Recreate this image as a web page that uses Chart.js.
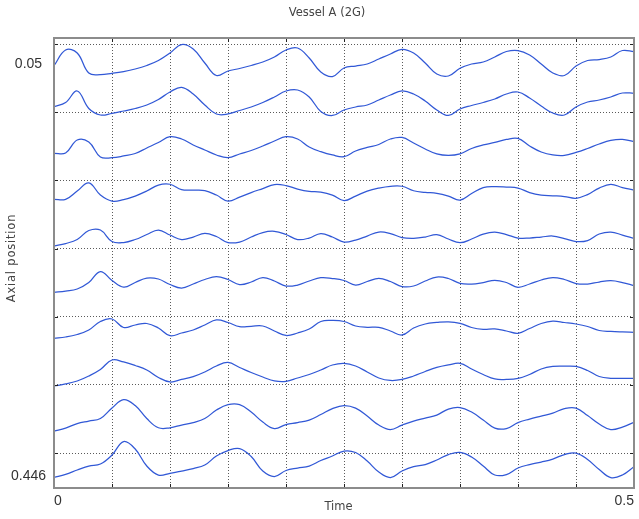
<!DOCTYPE html>
<html><head><meta charset="utf-8">
<script src="https://cdn.jsdelivr.net/npm/chart.js@4.4.1/dist/chart.umd.min.js"></script>
<style>html,body{margin:0;padding:0;background:#fff;}#wrap{width:639px;height:519px;position:relative;}</style>
</head><body><div id="wrap"><canvas id="c"></canvas></div>
<script>
const TITLE = 'Vessel A (2G)';
const X_TITLE = 'Time';
const Y_TITLE = 'Axial position';

const TIME = [0,0.01,0.02,0.03,0.04,0.05,0.06,0.07,0.08,0.09,0.1,0.11,0.12,0.13,0.14,0.15,0.16,0.17,0.18,0.19,0.2,0.21,0.22,0.23,0.24,0.25,0.26,0.27,0.28,0.29,0.3,0.31,0.32,0.33,0.34,0.35,0.36,0.37,0.38,0.39,0.4,0.41,0.42,0.43,0.44,0.45,0.46,0.47,0.48,0.49,0.5];

// axial position of each trace's baseline
const POSITIONS = [0.05,0.094,0.138,0.182,0.226,0.27,0.314,0.358,0.402,0.446];
// amplitude units -> axial units
const AMP_SCALE = 0.000961;

const TRACE_1 = [-1.7,14,11,-9,-10.7,-9.3,-7.5,-5,-1.5,3.5,11,19.5,15,1,-11.5,-7,-4.5,-1.5,2,7,14,16,6,-8,-12.5,-4,-2,0,5,10,14.7,11,1,-10,-12,-4.3,0,2,7,12.5,13.5,9,0,-9,-11.5,-2,3.5,4.5,7,13.5,12.3];
const TRACE_2 = [3.1,7.3,18.8,1.3,-5.2,-3.5,-1.2,1.3,4.8,10.3,17.8,22.5,15.8,4.8,-4.2,-4.2,-0.7,2.8,7.3,12.8,18.8,19.8,12.8,-1.7,-5.7,-0.2,2.8,4.8,9.8,14.8,18.8,15.8,8.8,-0.2,-5.7,0.8,4.3,7.3,10.8,15.8,17.8,11.8,3.8,-3.2,-5.2,2.8,7.8,9.8,12.8,16.8,16.5];
const TRACE_3 = [2.3,2.6,15.6,13.6,-1.4,-2.1,-0.4,2.1,7.6,13.1,18.9,16.6,10.6,5.6,0.6,-2.1,1.6,5.1,9.6,14.6,18.9,16.6,8.6,3.9,0.6,-1.1,4.6,8.1,11.1,16.6,18.1,12.6,6.6,1.6,0.1,1.6,7.1,10.6,13.1,16.1,17.1,9.6,3.6,0.6,0.1,3.1,7.1,11.6,15.1,16.1,13.9];
const TRACE_4 = [2,2,10.3,18.5,6.3,0.3,1.8,5.3,10.3,16.3,17.1,11.8,11.3,10.8,6.3,0.3,4.3,8.8,12.8,16.8,15.8,12.3,10,9.3,6.3,0.8,5.3,10.3,13.3,15.1,15.1,10.6,9,8,5.3,1.3,7.8,13.8,14.8,14.3,13.3,8.8,6.3,5.6,4.8,3.1,6.8,13.3,17,13.8,11.3];
const TRACE_5 = [1.1,3.6,7.6,16.6,17.1,5.6,4.6,7.6,12.6,17.1,12.1,7.6,10.1,13.8,10.6,4.6,5.1,10.1,14.6,15.8,12.6,7.6,9.1,13.6,10.1,5.1,7.1,11.1,15.1,13.6,9.6,8.8,10.1,12.6,8.1,4.4,8.1,13.1,15.1,12.6,9.1,9.1,10.1,11.1,8.6,5.6,6.6,13.1,15.1,12.1,8.8];
const TRACE_6 = [0.6,1.9,3.9,10.4,21.4,12.4,5.7,10.4,14.9,13.9,8.4,4.9,8.9,13.4,16.2,13.4,8.4,10.9,15.4,11.9,6.9,7.9,11.9,15.2,14.4,12.4,7.9,11.4,14.6,11.4,6.4,6.9,11.9,15.9,14.4,9.6,8.9,10.4,12.6,10.4,5.6,8.9,12.9,15.4,13.4,9.4,8.9,10.9,12.2,10.4,7.2];
const TRACE_7 = [0.4,1.7,4.2,8.7,17.2,19.7,11.2,13.7,15.2,10.7,3,5.7,8.7,13.7,18.7,16.2,12,12.4,12.7,7.7,3.2,5.7,9.7,17.2,18.2,17.2,12.7,11.4,11.4,7.7,3.7,10.7,14.7,16.2,16.9,15.4,11.2,9.4,9.7,7.7,5.4,10.2,15.2,17.5,16.2,14.7,12.2,8.2,7.2,6.7,6.4];
const TRACE_8 = [-1.5,0.5,3.5,8.5,15,24.5,22.5,19,14.5,7,2.5,5,7.8,12.5,18.5,22,17,12,7.5,3.5,3,6.5,10,14.5,19.5,21.2,18.5,12.5,6.5,4,5,8.5,13,17,19.5,21.2,15.5,10,5.5,5,6,10,15.5,18,18.3,18,14,8,6.2,6.2,6.2];
const TRACE_9 = [-0.8,2.2,6.7,9.2,11.7,22.2,30.7,24.7,11.7,2.5,2.5,5.2,7.7,11.7,20.2,25.7,25.7,18.2,8.2,1.7,5.7,7.7,10.2,15.7,21.7,24.7,22.2,14.2,5.2,0.7,5.2,9.2,12.2,15.2,21.2,22.7,18.2,10.2,2.2,1.7,7.7,11.2,14.2,17.2,21.7,22.2,14.7,6.2,0.7,3.2,7.9];
const TRACE_10 = [-1.3,1.7,6,10,12,21,34.5,27,10,1,2.7,5,7.5,11,20,25.5,27.5,19.5,5,-0.5,5.5,8,10,15.5,20,25,23.5,15,4,-1.5,5,9.5,11.5,16,21.5,23.7,19,10,1,1.5,8,11.5,14,17,21.5,23,16.5,6.5,-1.5,1,9.3];
const TRACES = [TRACE_1,TRACE_2,TRACE_3,TRACE_4,TRACE_5,TRACE_6,TRACE_7,TRACE_8,TRACE_9,TRACE_10];

const X_MIN = 0, X_MAX = 0.5;
const X_GRID = [0,0.05,0.1,0.15,0.2,0.25,0.3,0.35,0.4,0.45,0.5];
const X_TICK_VALUES = [0,0.5];
const X_TICK_LABELS = ['0','0.5'];

const Y_MIN = 0.025, Y_MAX = 0.4575;
const Y_GRID = [0.0308,0.0963,0.1618,0.2274,0.2929,0.3584,0.424];
const Y_TICK_VALUES = [0.05,0.446];
const Y_TICK_LABELS = ['0.05','0.446'];

const LINE_COLOR = '#3158d6';
const GRID_COLOR = '#5a5a5a';
const TICK_FONT = {family:'"Liberation Sans", Arial, sans-serif', size:14};
const TEXT_FONT_CSS = '11.5px "DejaVu Sans", sans-serif';

const datasets = TRACES.map((tr, i) => ({
  data: TIME.map((t, j) => ({x: t, y: POSITIONS[i] - tr[j] * AMP_SCALE})),
  borderColor: LINE_COLOR,
  borderWidth: 1.25,
  pointRadius: 0,
  fill: false,
  tension: 0.4
}));

const framePlugin = {
  id: 'frame',
  afterDatasetsDraw(chart) {
    const {ctx, chartArea: a, scales: {x, y}} = chart;
    ctx.save();
    ctx.strokeStyle = '#222';
    ctx.lineWidth = 1;
    ctx.beginPath();
    X_GRID.forEach(v => {
      const px = Math.round(x.getPixelForValue(v)) + 0.5;
      ctx.moveTo(px, a.bottom); ctx.lineTo(px, a.bottom - 4);
      ctx.moveTo(px, a.top); ctx.lineTo(px, a.top + 4);
    });
    Y_GRID.forEach(v => {
      const py = Math.round(y.getPixelForValue(v)) + 0.5;
      ctx.moveTo(a.left, py); ctx.lineTo(a.left + 4, py);
      ctx.moveTo(a.right, py); ctx.lineTo(a.right - 4, py);
    });
    ctx.stroke();
    ctx.strokeStyle = '#8c8c8c';
    ctx.lineWidth = 2;
    ctx.strokeRect(a.left, a.top, a.right - a.left, a.bottom - a.top);
    ctx.restore();
  }
};

const textPlugin = {
  id: 'texts',
  afterDraw(chart) {
    const {ctx, chartArea: a} = chart;
    ctx.save();
    ctx.font = TEXT_FONT_CSS;
    ctx.fillStyle = '#444';
    ctx.textAlign = 'center';
    ctx.textBaseline = 'middle';
    ctx.fillText(TITLE, 327, 13.5);
    ctx.fillText(X_TITLE, 338.5, 507);
    ctx.translate(12.5, 258);
    ctx.rotate(-Math.PI / 2);
    if ('letterSpacing' in ctx) ctx.letterSpacing = '0.8px';
    ctx.fillText(Y_TITLE, 0, 0);
    ctx.restore();
  }
};

new Chart(document.getElementById('c'), {
  type: 'line',
  data: {datasets},
  plugins: [framePlugin, textPlugin],
  options: {
    responsive: true,
    maintainAspectRatio: false,
    devicePixelRatio: 1,
    animation: false,
    layout: {padding: {left: 0, right: 5, top: 38, bottom: 0}},
    plugins: {
      legend: {display: false},
      tooltip: {enabled: false},
      title: {display: false}
    },
    scales: {
      x: {
        type: 'linear', min: X_MIN, max: X_MAX,
        afterBuildTicks: s => { s.ticks = X_GRID.map(v => ({value: v})); },
        afterFit: s => { s.height = 31; },
        ticks: {
          autoSkip: false, maxRotation: 0, minRotation: 0, align: 'inner', padding: 5,
          color: '#333', font: TICK_FONT,
          callback: v => { const i = X_TICK_VALUES.indexOf(v); return i >= 0 ? X_TICK_LABELS[i] : ''; }
        },
        grid: {drawTicks: false, color: GRID_COLOR, lineWidth: 1},
        border: {display: false, dash: [1, 2]},
        title: {display: false}
      },
      y: {
        type: 'linear', reverse: true, min: Y_MIN, max: Y_MAX,
        afterBuildTicks: s => {
          s.ticks = [...Y_GRID, ...Y_TICK_VALUES].sort((p, q) => p - q).map(v => ({value: v}));
        },
        afterFit: s => { s.width = 54; },
        ticks: {
          autoSkip: false, padding: 8, crossAlign: 'center', color: '#333', font: TICK_FONT,
          callback: v => { const i = Y_TICK_VALUES.indexOf(v); return i >= 0 ? Y_TICK_LABELS[i] : ''; }
        },
        grid: {
          drawTicks: false, lineWidth: 1,
          color: c => (c.tick && Y_TICK_VALUES.includes(c.tick.value)) ? 'rgba(0,0,0,0)' : GRID_COLOR
        },
        border: {display: false, dash: [1, 2]},
        title: {display: false}
      }
    }
  }
});
</script>
</body></html>
